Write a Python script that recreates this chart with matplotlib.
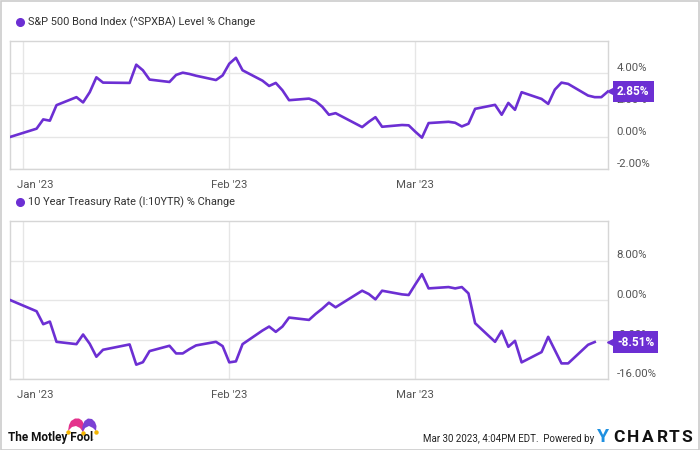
import matplotlib
matplotlib.use('Agg')
import matplotlib.pyplot as plt
import matplotlib.patches as patches
from matplotlib.lines import Line2D
from matplotlib.transforms import ScaledTranslation
import pandas as pd

plt.rcParams['font.family'] = ['Roboto', 'DejaVu Sans']

# trading days, Dec 30 2022 - Mar 30 2023
bond_dates = [
    '2022-12-30', '2023-01-03', '2023-01-04', '2023-01-05', '2023-01-06', '2023-01-09',
    '2023-01-10', '2023-01-11', '2023-01-12', '2023-01-13', '2023-01-17', '2023-01-18',
    '2023-01-19', '2023-01-20', '2023-01-23', '2023-01-24', '2023-01-25', '2023-01-26',
    '2023-01-27', '2023-01-30', '2023-01-31', '2023-02-01', '2023-02-02', '2023-02-03',
    '2023-02-06', '2023-02-07', '2023-02-08', '2023-02-09', '2023-02-10', '2023-02-13',
    '2023-02-14', '2023-02-15', '2023-02-16', '2023-02-17', '2023-02-21', '2023-02-22',
    '2023-02-23', '2023-02-24', '2023-02-27', '2023-02-28', '2023-03-01', '2023-03-02',
    '2023-03-03', '2023-03-06', '2023-03-07', '2023-03-08', '2023-03-09', '2023-03-10',
    '2023-03-13', '2023-03-14', '2023-03-15', '2023-03-16', '2023-03-17', '2023-03-20',
    '2023-03-21', '2023-03-22', '2023-03-23', '2023-03-24', '2023-03-27', '2023-03-28',
    '2023-03-29', '2023-03-30',
]
bond_values = [
    0.00, 0.52, 1.10, 1.02, 1.99, 2.49,
    2.16, 2.80, 3.73, 3.40, 3.38, 4.52,
    4.17, 3.59, 3.44, 3.88, 4.02, 3.94,
    3.83, 3.56, 3.85, 4.58, 4.95, 4.17,
    3.52, 3.19, 3.38, 2.92, 2.30, 2.40,
    2.24, 1.89, 1.39, 1.49, 0.62, 0.95,
    1.24, 0.64, 0.75, 0.73, 0.33, -0.04,
    0.87, 0.95, 0.89, 0.66, 0.83, 1.76,
    2.01, 1.39, 2.13, 1.70, 2.80, 2.38,
    2.07, 2.96, 3.40, 3.32, 2.59, 2.49,
    2.49, 2.85,
]

# treasury series stops at Mar 28
rate_dates = bond_dates[:60]
rate_values = [
    0.00, -2.28, -4.90, -4.37, -8.47, -8.94,
    -6.99, -8.87, -11.49, -10.08, -9.00, -13.10,
    -12.60, -10.35, -9.27, -10.82, -10.82, -9.95,
    -9.20, -8.47, -9.34, -12.63, -12.43, -8.94,
    -6.18, -5.38, -6.45, -5.38, -3.56, -4.03,
    -2.82, -1.75, -0.54, -1.48, 1.88, 1.21,
    0.13, 1.88, 1.14, 1.01, 3.16, 5.24,
    2.35, 2.62, 2.35, 2.62, 1.34, -4.70,
    -8.47, -6.25, -9.48, -8.27, -12.63, -10.55,
    -7.46, -10.15, -12.84, -12.84, -9.07, -8.51,
]

month_ticks = ['2023-01-01', '2023-02-01', '2023-03-01']
month_labels = ["Jan '23", "Feb '23", "Mar '23"]

bond_title = 'S&P 500 Bond Index (^SPXBA) Level % Change'
rate_title = '10 Year Treasury Rate (I:10YTR) % Change'
bond_yticks = [-2, 0, 2, 4]
rate_yticks = [-16, -8, 0, 8]

purple = '#6c2fd3'
grid_c = '#e6e6e6'
spine_c = '#d6d6d6'
text_c = '#555555'

W, H = 700, 450
fig = plt.figure(figsize=(7, 4.5), dpi=100)
fig.patch.set_facecolor('white')


def px(x, y):
    return x / W, 1 - y / H


def px_axes(left, top, right, bottom):
    return fig.add_axes([left / W, 1 - bottom / H, (right - left) / W, (bottom - top) / H])


def style_panel(ax, dates, values, ylim, yticks):
    x = pd.to_datetime(dates)
    ax.plot(x, values, color=purple, linewidth=1.9, zorder=3)
    ax.set_xlim(pd.Timestamp('2022-12-30'), pd.Timestamp('2023-03-30'))
    ax.set_ylim(*ylim)
    ax.set_xticks(pd.to_datetime(month_ticks))
    ax.set_xticklabels(month_labels)
    ax.set_yticks(yticks)
    ax.set_yticklabels(['%.2f%%' % v for v in yticks])
    ax.yaxis.tick_right()
    ax.tick_params(axis='both', length=0, labelsize=8.2, labelcolor=text_c)
    ax.tick_params(axis='y', pad=6)
    ax.tick_params(axis='x', pad=8)
    ax.grid(True, color=grid_c, linewidth=1, zorder=0)
    for s in ax.spines.values():
        s.set_color(spine_c)
        s.set_linewidth(1)
    # value labels sit a little above their gridlines
    for lab in ax.get_yticklabels():
        lab.set_transform(lab.get_transform() + ScaledTranslation(0, 6 / 100, fig.dpi_scale_trans))
    first = ax.get_xticklabels()[0]
    first.set_transform(first.get_transform() + ScaledTranslation(12 / 100, 0, fig.dpi_scale_trans))
    # end-of-series tag
    xe = ax.get_xlim()[1]
    shift = ax.transData + ScaledTranslation(5 / 100, 0, fig.dpi_scale_trans)
    ax.plot([xe], [values[-1]], marker='<', markersize=9, color=purple, clip_on=False,
            transform=shift, zorder=5)
    ax.annotate('%.2f%%' % values[-1], xy=(1.0, values[-1]), xycoords=('axes fraction', 'data'),
                xytext=(6.5, 0), textcoords='offset points', ha='left', va='center',
                color='white', fontsize=8.6, fontweight='bold', zorder=6,
                bbox=dict(boxstyle='square,pad=0.35', facecolor=purple, edgecolor='none'))


ax1 = px_axes(10, 41, 608, 169)
style_panel(ax1, bond_dates, bond_values, (-2, 6), bond_yticks)

ax2 = px_axes(10, 221, 608, 379)
style_panel(ax2, rate_dates, rate_values, (-16, 16), rate_yticks)

# panel titles
for ty, title in [(22, bond_title), (202, rate_title)]:
    fig.add_artist(Line2D([20 / W], [1 - ty / H], marker='o', markersize=5.5, color=purple,
                          transform=fig.transFigure))
    fig.text(28 / W, 1 - ty / H, title, ha='left', va='center', fontsize=7.9, color='#333333')

# footer: Motley Fool jester hat
hat_l = [(68, 431), (69, 425), (71, 421), (75, 418.5), (79, 418.5), (82, 420.5), (84, 424),
         (84.5, 429), (83, 432), (80, 428), (76, 426), (72, 427)]
hat_r = [(82, 432), (82.5, 426), (84.5, 421), (88, 418.5), (92, 419), (95, 422), (96.5, 426),
         (96, 431), (93, 428), (89, 426), (85, 428)]
fig.add_artist(patches.Polygon([px(*p) for p in hat_l], closed=True, transform=fig.transFigure,
                               facecolor='#e4328c', edgecolor='none'))
fig.add_artist(patches.Polygon([px(*p) for p in hat_r], closed=True, transform=fig.transFigure,
                               facecolor='#7b41d4', edgecolor='none'))
for hx, hy in [(68, 432), (83, 433), (96, 432)]:
    fig.add_artist(Line2D([hx / W], [1 - hy / H], marker='o', markersize=2.2, color='#f4b400',
                          transform=fig.transFigure))
fig.text(8 / W, 1 - 437 / H, 'The Motley Fool', ha='left', va='center', fontsize=8.5,
         fontweight='bold', color='#111111')
fig.text(92 / W, 1 - 439 / H, '.', ha='left', va='center', fontsize=5, color='#111111')

# footer: timestamp and YCharts
fig.text(594 / W, 1 - 439 / H, 'Mar 30 2023, 4:04PM EDT.  Powered by', ha='right', va='center',
         fontsize=7, color='#222222')
fig.text(597 / W, 1 - 437 / H, 'Y', ha='left', va='center', fontsize=14, fontweight='bold',
         color='#1e90e0')
for lx, letter in zip([613, 627, 642, 657, 669, 681], 'CHARTS'):
    fig.text(lx / W, 1 - 437 / H, letter, ha='left', va='center', fontsize=12.5,
             fontweight='bold', color='#111111')

# outer frame
fig.add_artist(patches.Rectangle((0.5 / W, 0.5 / H), 1 - 1.5 / W, 1 - 1.5 / H, transform=fig.transFigure,
                                 fill=False, edgecolor='#cccccc', linewidth=1.2))

fig.savefig('out.png', dpi=100)
